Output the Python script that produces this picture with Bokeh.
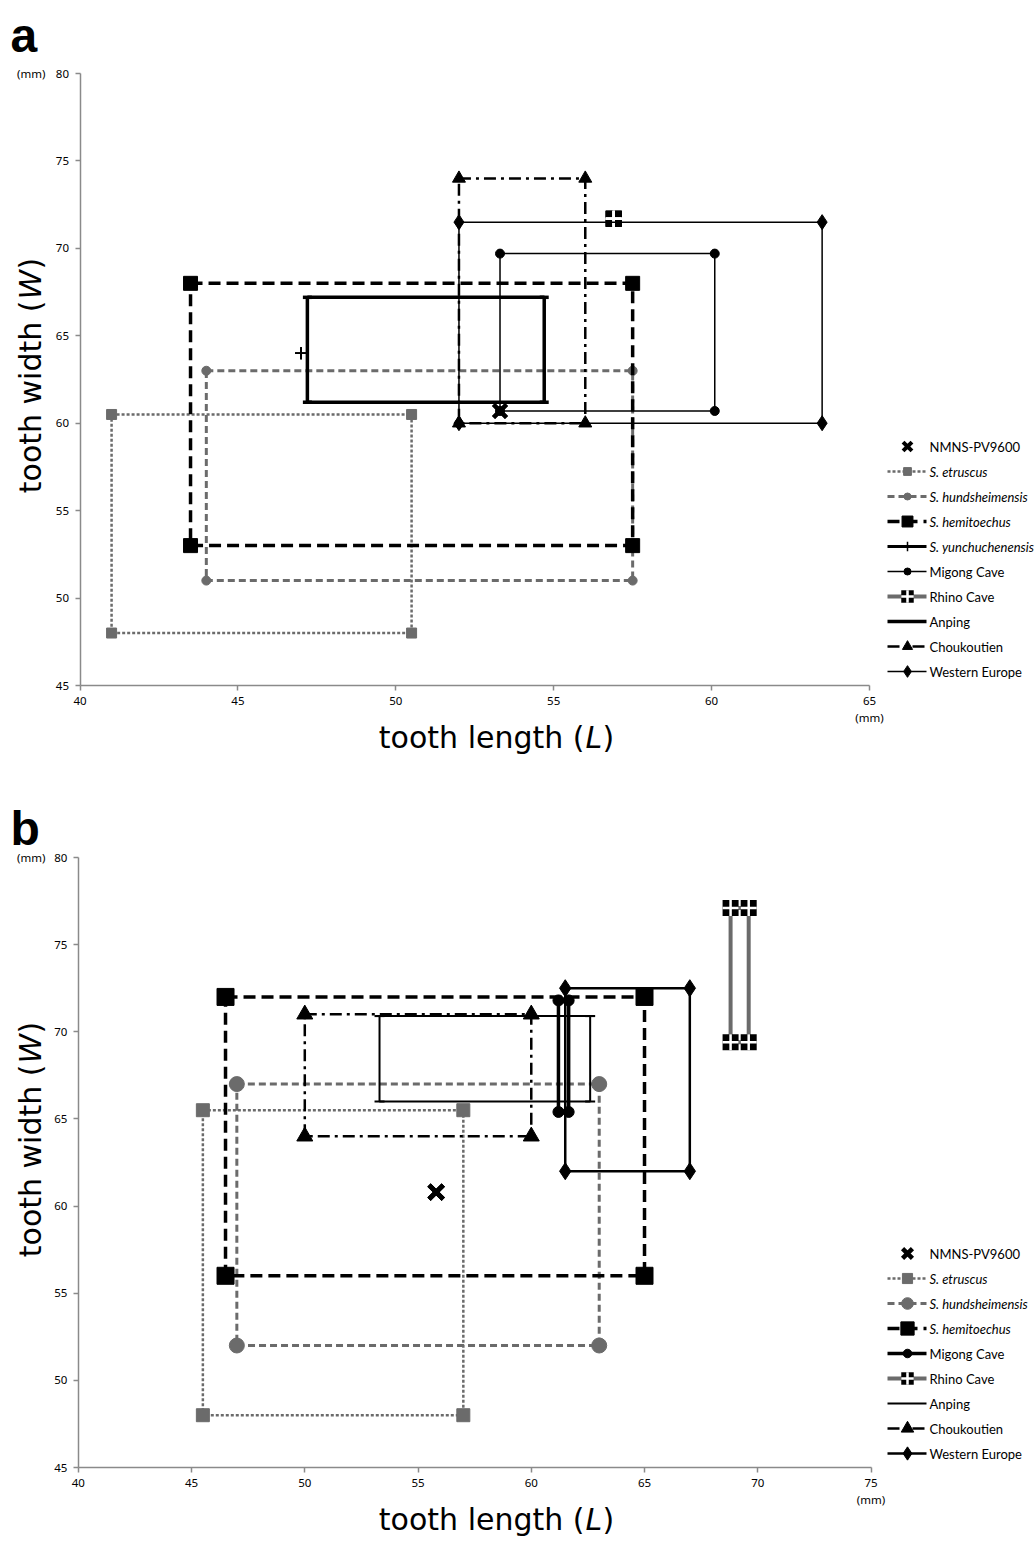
from bokeh.plotting import figure
from bokeh.models import Range1d, LinearAxis, Label, ColumnDataSource, FixedTicker
from bokeh.layouts import column
from bokeh.embed import file_html
from bokeh.resources import INLINE
from bokeh.core.properties import value

# ---------------- data: panel a ----------------
A_NAMES = ["NMNS-PV9600", "S. etruscus", "S. hundsheimensis", "S. hemitoechus",
           "S. yunchuchenensis", "Migong Cave", "Rhino Cave", "Anping",
           "Choukoutien", "Western Europe"]
A_LMIN = [53.3, 41.0, 44.0, 43.5, 47.0, 53.3, 56.9, 47.2, 52.0, 52.0]
A_LMAX = [53.3, 50.5, 57.5, 57.5, 47.0, 60.1, 56.9, 54.7, 56.0, 63.5]
A_WMIN = [60.7, 48.0, 51.0, 53.0, 64.0, 60.7, 71.7, 61.2, 60.0, 60.0]
A_WMAX = [60.7, 60.5, 63.0, 68.0, 64.0, 69.7, 71.7, 67.2, 74.0, 71.5]
A_XTICKS = [40, 45, 50, 55, 60, 65]

# ---------------- data: panel b ----------------
B_NAMES = ["NMNS-PV9600", "S. etruscus", "S. hundsheimensis", "S. hemitoechus",
           "Migong Cave", "Rhino Cave", "Anping", "Choukoutien", "Western Europe"]
B_LMIN = [55.8, 45.5, 47.0, 46.5, 61.2, 68.8, 53.3, 50.0, 61.5]
B_LMAX = [55.8, 57.0, 63.0, 65.0, 61.65, 69.6, 62.6, 60.0, 67.0]
B_WMIN = [60.8, 48.0, 52.0, 56.0, 65.4, 69.4, 66.0, 64.0, 62.0]
B_WMAX = [60.8, 65.5, 67.0, 72.0, 71.8, 77.1, 70.9, 71.0, 72.5]
B_XTICKS = [40, 45, 50, 55, 60, 65, 70, 75]

Y_TICKS = [45, 50, 55, 60, 65, 70, 75, 80]
ITALIC = {"S. etruscus", "S. hundsheimensis", "S. hemitoechus", "S. yunchuchenensis"}

GRAY = "#6b6b6b"
AXIS_GRAY = "#8a8a8a"
FONT = "Noto Sans"
LEG_FONT = "Lato"
PAGE_W = 1036

# ---------------- styles ----------------
STYLE_A = {
    "NMNS-PV9600": dict(lw=0, marker="x", ms=18, color="black", mlw=4),
    "S. etruscus": dict(lw=2.5, dash="3 2", marker="square", ms=10, color=GRAY),
    "S. hundsheimensis": dict(lw=3, dash="7 4", marker="circle", ms=9, color=GRAY),
    "S. hemitoechus": dict(lw=3.5, dash="12 6", marker="square", ms=14, color="black"),
    "S. yunchuchenensis": dict(lw=0, leg_lw=3, marker="cross", ms=12, color="black", mlw=1.5),
    "Migong Cave": dict(lw=1.5, marker="circle", ms=9, color="black"),
    "Rhino Cave": dict(lw=0, leg_lw=4, leg_color=GRAY, marker="rhino", ms=16, color="black"),
    "Anping": dict(lw=3.5, marker="serif", ms=9, color="black"),
    "Choukoutien": dict(lw=2.5, dash="12 5 3 5", marker="triangle", ms=13, color="black"),
    "Western Europe": dict(lw=1.5, marker="diamond", ms=15, color="black"),
}
STYLE_B = {
    "NMNS-PV9600": dict(lw=0, marker="x", ms=20, color="black", mlw=4.5),
    "S. etruscus": dict(lw=2.5, dash="3 2", marker="square", ms=13, color=GRAY),
    "S. hundsheimensis": dict(lw=3, dash="7 4", marker="circle", ms=15, color=GRAY),
    "S. hemitoechus": dict(lw=3.5, dash="12 6", marker="square", ms=17, color="black"),
    "Migong Cave": dict(lw=3.5, marker="circle", ms=11, color="black"),
    "Rhino Cave": dict(lw=4, line_color=GRAY, marker="rhino", ms=16, color="black"),
    "Anping": dict(lw=2, marker="serif", ms=10, color="black"),
    "Choukoutien": dict(lw=2.5, dash="12 5 3 5", marker="triangle", ms=16, color="black"),
    "Western Europe": dict(lw=2.5, marker="diamond", ms=17, color="black"),
}


def draw_markers(p, xs, ys, st, size):
    m = st["marker"]
    c = st["color"]
    if m == "x":
        p.scatter(xs, ys, marker="x", size=size, line_color=c, line_width=st.get("mlw", 3))
    elif m == "cross":
        p.scatter(xs, ys, marker="cross", size=size, line_color=c, line_width=st.get("mlw", 1.5))
    elif m == "rhino":
        p.scatter(xs, ys, marker="square", size=size, fill_color=c, line_color=None)
        p.scatter(xs, ys, marker="cross", size=size, line_color="white", line_width=2.5)
    elif m == "serif":
        p.scatter(xs, ys, marker="dash", size=size, line_color=c, line_width=st["lw"])
    else:
        p.scatter(xs, ys, marker=m, size=size, fill_color=c, line_color=c)


def draw_series(p, l0, l1, w0, w1, st):
    if st["lw"]:
        p.line([l0, l1, l1, l0, l0], [w1, w1, w0, w0, w1],
               line_color=st.get("line_color", st["color"]), line_width=st["lw"],
               line_dash=st.get("dash", "solid"))
    draw_markers(p, [l0, l1, l1, l0], [w1, w1, w0, w0], st, st["ms"])


def make_panel(letter, names, lmin, lmax, wmin, wmax, xticks, styles,
               page_top, height, f_left, f_top, f_bottom, ppx, leg_top,
               letter_base, ytitle_anchor):
    ppy = (f_bottom - f_top) / 35.0
    X = lambda px: 40 + (px - f_left) / ppx
    Y = lambda py: 45 + (f_bottom - py) / ppy
    p = figure(width=PAGE_W, height=height,
               x_range=Range1d(X(0), X(PAGE_W)), y_range=Range1d(Y(page_top + height), Y(page_top)),
               output_backend="svg", toolbar_location=None, x_axis_type=None, y_axis_type=None,
               title=None, min_border=0)
    p.outline_line_color = None
    p.background_fill_color = "white"
    p.border_fill_color = "white"

    for loc, ticks, bounds, fixed in (("below", xticks, (xticks[0], xticks[-1]), 45),
                                      ("left", Y_TICKS, (45, 80), 40)):
        ax = LinearAxis(ticker=FixedTicker(ticks=ticks), bounds=bounds, fixed_location=fixed)
        ax.axis_line_color = AXIS_GRAY
        ax.axis_line_width = 1.5
        ax.major_tick_line_color = AXIS_GRAY
        ax.major_tick_line_width = 1.5
        ax.major_tick_out = 5
        ax.major_tick_in = 0
        ax.minor_tick_line_color = None
        ax.major_label_text_font = FONT
        ax.major_label_text_font_size = "11.5px"
        ax.major_label_text_color = "black"
        ax.major_label_standoff = 6
        p.add_layout(ax, loc)

    # series
    for i, n in enumerate(names):
        draw_series(p, lmin[i], lmax[i], wmin[i], wmax[i], styles[n])

    # legend (page-pixel layout converted into data units)
    xl0, xl1, xm, xt = X(887), X(926), X(907), X(929)
    tx, ty, tt, ts = [], [], [], []
    for i, n in enumerate(names):
        st = styles[n]
        y = Y(leg_top + 25 * i)
        llw = st.get("leg_lw", st["lw"])
        if llw:
            p.line([xl0, xl1], [y, y], line_color=st.get("leg_color", st.get("line_color", st["color"])),
                   line_width=llw, line_dash=st.get("dash", "solid"))
        if st["marker"] != "serif":
            draw_markers(p, [xm], [y], st, st["ms"] * (0.78 if st["marker"] != "x" else 0.7))
        tx.append(xt); ty.append(y); tt.append(n)
        ts.append("italic" if n in ITALIC else "normal")
    src = ColumnDataSource(dict(x=tx, y=ty, t=tt, s=ts))
    p.text(x="x", y="y", text="t", text_font_style="s", source=src,
           text_font=value(LEG_FONT), text_font_size="13px", text_baseline="middle",
           text_align="left", text_color="black")

    # annotations
    p.add_layout(Label(x=X(45), y=80, text="(mm)", text_font=FONT, text_font_size="11.5px",
                       text_color="black", text_align="right", text_baseline="middle"))
    p.add_layout(Label(x=xticks[-1], y=Y(f_bottom + 32), text="(mm)", text_font=FONT,
                       text_color="black", text_font_size="11.5px", text_align="center",
                       text_baseline="middle"))
    p.add_layout(Label(x=X(10), y=Y(letter_base), text=letter, text_color="black",
                       text_font="Liberation Sans", text_font_style="bold", text_font_size="48px",
                       text_align="left", text_baseline="alphabetic"))
    # x title
    tfont = "DejaVu Sans"
    tsize = "30px"
    yc = Y(f_bottom + 52)
    p.add_layout(Label(x=X(584), y=yc, text="tooth length (", text_font=tfont, text_font_size=tsize,
                       text_color="black", text_align="right", text_baseline="middle"))
    p.add_layout(Label(x=X(585), y=yc, text="L", text_font_style="italic", text_font=tfont,
                       text_color="black", text_font_size=tsize, text_align="left",
                       text_baseline="middle"))
    p.add_layout(Label(x=X(602), y=yc, text=")", text_font=tfont, text_font_size=tsize,
                       text_color="black", text_align="left", text_baseline="middle"))
    # y title (rotated)
    xc = X(30)
    p.add_layout(Label(x=xc, y=Y(ytitle_anchor), angle=1.5707963, text="tooth width (",
                       text_color="black", text_font=tfont, text_font_size=tsize,
                       text_align="right", text_baseline="middle"))
    p.add_layout(Label(x=xc, y=Y(ytitle_anchor - 1), angle=1.5707963, text="W",
                       text_color="black", text_font_style="italic", text_font=tfont,
                       text_font_size=tsize, text_align="left", text_baseline="middle"))
    p.add_layout(Label(x=xc, y=Y(ytitle_anchor - 31), angle=1.5707963, text=")",
                       text_color="black", text_font=tfont, text_font_size=tsize,
                       text_align="left", text_baseline="middle"))
    return p


pa = make_panel("a", A_NAMES, A_LMIN, A_LMAX, A_WMIN, A_WMAX, A_XTICKS, STYLE_A,
                page_top=0, height=775, f_left=79.5, f_top=73, f_bottom=685, ppx=789.5 / 25.0,
                leg_top=446, letter_base=35, ytitle_anchor=300)
pb = make_panel("b", B_NAMES, B_LMIN, B_LMAX, B_WMIN, B_WMAX, B_XTICKS, STYLE_B,
                page_top=775, height=766, f_left=77.8, f_top=857, f_bottom=1467, ppx=792.7 / 35.0,
                leg_top=1253, letter_base=828, ytitle_anchor=1064)

layout = column(pa, pb, spacing=0)
open("out.html", "w").write(file_html(layout, INLINE))
